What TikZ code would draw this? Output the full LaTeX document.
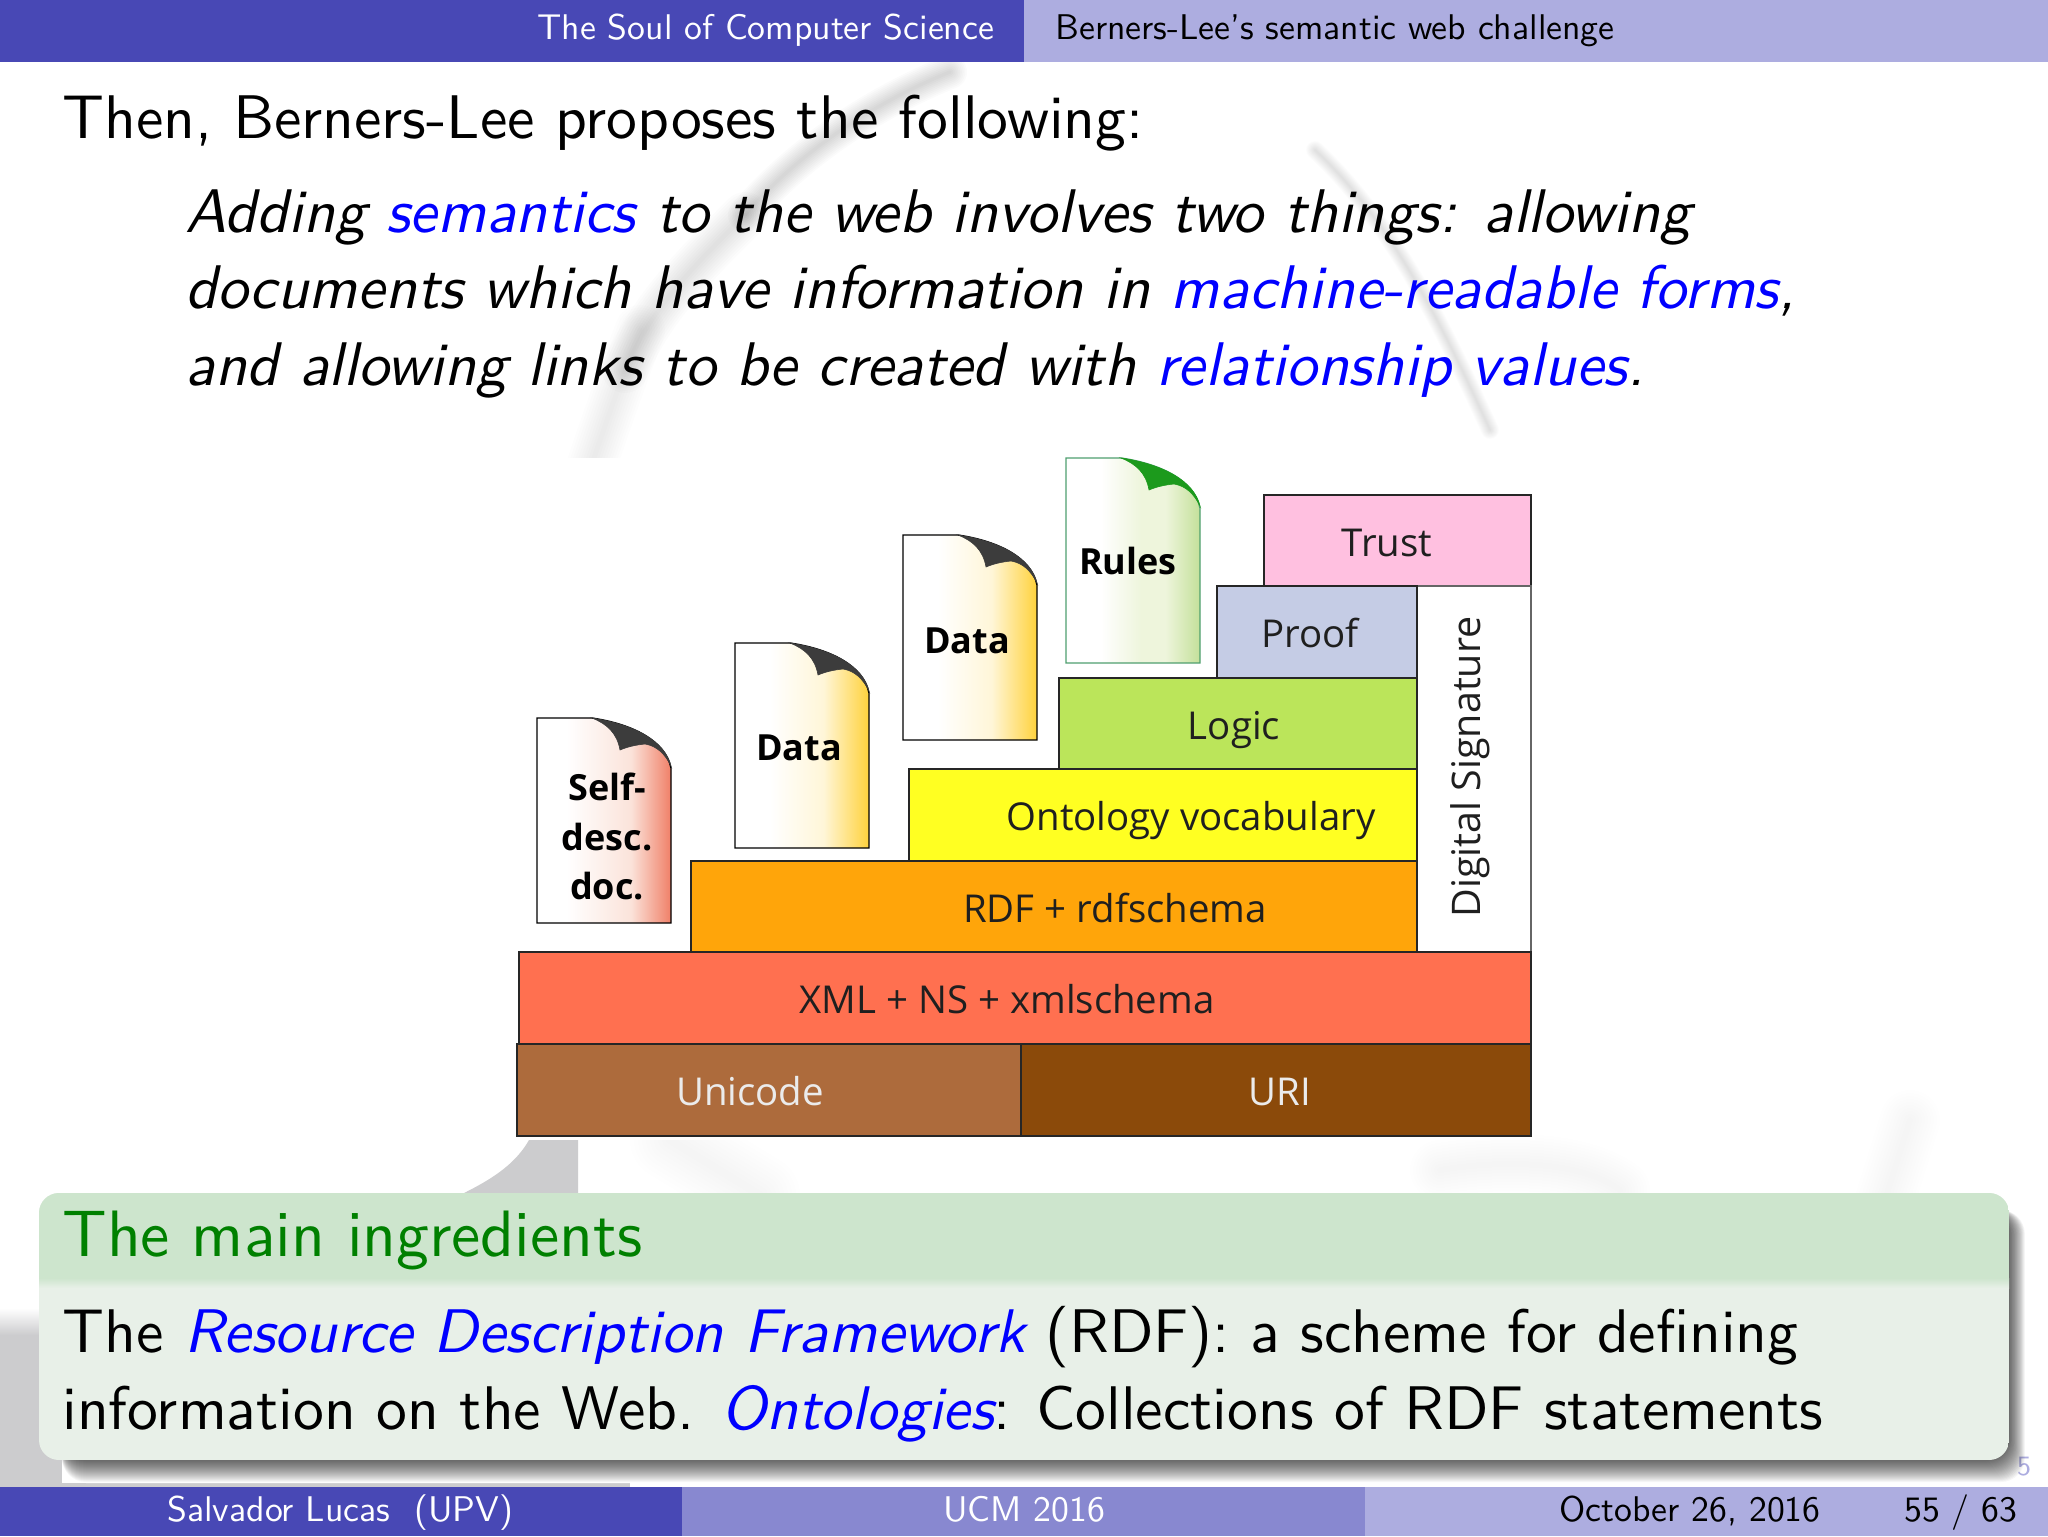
\documentclass[tikz,border=0pt]{standalone}
\usepackage{fontspec}
\setsansfont{lmsans10-regular.otf}[ItalicFont=lmsans10-oblique.otf]
\newfontfamily\figfont{Open Sans}
\renewcommand{\familydefault}{\sfdefault}
\usetikzlibrary{calc}
\definecolor{hdark}{HTML}{4848B5}
\definecolor{hmid}{HTML}{8888D0}
\definecolor{hlight}{HTML}{ADADE0}
\definecolor{blockhead}{HTML}{CDE5CD}
\definecolor{blockbody}{HTML}{E8F0E8}
\definecolor{ltitle}{HTML}{008000}
\definecolor{cTrust}{HTML}{FFC0E0}
\definecolor{cProof}{HTML}{C5CCE5}
\definecolor{cLogic}{HTML}{BBE55A}
\definecolor{cOnto}{HTML}{FFFF22}
\definecolor{cRdf}{HTML}{FFA50A}
\definecolor{cXml}{HTML}{FF7050}
\definecolor{cUni}{HTML}{AD6B3C}
\definecolor{cUri}{HTML}{8B4A0A}
\definecolor{cFoldG}{HTML}{1C9A1C}
\definecolor{cLineG}{HTML}{4F9F6F}
\definecolor{cDark}{HTML}{3C3C3C}
\definecolor{wmgray}{HTML}{CCCCCE}
\definecolor{rA}{HTML}{FBE3DA}\definecolor{rB}{HTML}{F08068}
\definecolor{yA}{HTML}{FFF6D8}\definecolor{yB}{HTML}{FFD23C}
\definecolor{gA}{HTML}{EEF5DC}\definecolor{gB}{HTML}{C4E09A}
\pgfdeclarehorizontalshading{shRed}{100bp}{color(0bp)=(white);color(36bp)=(white);color(60bp)=(rA);color(75bp)=(rB);color(100bp)=(rB)}
\pgfdeclarehorizontalshading{shYel}{100bp}{color(0bp)=(white);color(38bp)=(white);color(58bp)=(yA);color(75bp)=(yB);color(100bp)=(yB)}
\pgfdeclarehorizontalshading{shGrn}{100bp}{color(0bp)=(white);color(38bp)=(white);color(53bp)=(gA);color(62bp)=(gA);color(75bp)=(gB);color(100bp)=(gB)}
\newcommand{\docsheet}[4]{%
 \begin{scope}[shift={(#1)}]
  \path[draw=#4,line width=.7pt,shading=#2]
    (0,0) -- (55,0) .. controls (95,6) and (128,22) .. (134,50) -- (134,205) -- (0,205) -- cycle;
  \path[fill=#3,draw=#3,line width=.3pt]
    (55,0) .. controls (95,6) and (128,22) .. (134,48) .. controls (128,36) and (120,28) .. (108,26)
    .. controls (98,27) and (90,29) .. (83,32) .. controls (80,15) and (70,6) .. (55,0) -- cycle;
 \end{scope}}
\tikzset{
 x=0.5pt,y=-0.5pt,
 layer/.style={draw=black!85,line width=.7pt},
 lab/.style={font=\figfont\fontsize{19.2}{21}\selectfont,text=black!88,anchor=base,inner sep=0pt},
 dlab/.style={font=\figfont\bfseries\fontsize{18}{20}\selectfont,text=black,anchor=base,inner sep=0pt},
 line/.style={anchor=base west,inner sep=0pt,font=\fontsize{30.8}{34}\selectfont},
 iline/.style={line,font=\fontsize{30.8}{34}\selectfont\itshape},
 barlab/.style={anchor=base west,inner sep=0pt,font=\fontsize{17.85}{20}\selectfont},
}
\newcommand{\softstroke}[3]{\foreach \w in {1,...,10}{\draw[line cap=round,draw=black,opacity=#2,line width=0.05pt*\w*#1] #3;}}
\begin{document}
\begin{tikzpicture}
\useasboundingbox (0,0) rectangle (2048,1536);
\fill[white] (0,0) rectangle (2048,1536);
% watermark
\softstroke{34}{.017}{(950,72) .. controls (880,100) and (800,150) .. (745,215)}
\softstroke{46}{.012}{(745,215) .. controls (690,270) and (650,310) .. (625,370)}
\softstroke{50}{.007}{(640,330) .. controls (625,370) and (610,410) .. (590,470)}
\softstroke{18}{.010}{(1315,150) .. controls (1390,220) and (1440,320) .. (1490,430)}
\softstroke{60}{.004}{(1440,1170) .. controls (1500,1160) and (1580,1160) .. (1620,1190)}
\softstroke{60}{.003}{(1910,1120) -- (1885,1200)}
\softstroke{80}{.004}{(670,1140) -- (760,1195)}
% white picture ground
\fill[white] (515,458) rectangle (1535,1140);
% dark lower-left watermark pieces
\fill[wmgray] (529,1140) .. controls (515,1165) and (490,1180) .. (464,1193) -- (578,1193) -- (578,1140) -- cycle;
\fill[wmgray] (0,1335) rectangle (62,1487);
\shade[top color=white,bottom color=wmgray] (0,1308) rectangle (62,1335);
\fill[wmgray] (62,1483) rectangle (630,1487);
% layers
\draw[layer,fill=cTrust] (1264,495) rectangle (1531,586);
\draw[layer,draw=black!60,fill=white] (1417,586) rectangle (1531,952);
\draw[layer,fill=cProof] (1217,586) rectangle (1417,678);
\draw[layer,fill=cLogic] (1059,678) rectangle (1417,769);
\draw[layer,fill=cOnto] (909,769) rectangle (1417,861);
\draw[layer,fill=cRdf] (691,861) rectangle (1417,952);
\draw[layer,fill=cXml] (519,952) rectangle (1531,1044);
\draw[layer,fill=cUni] (517,1044) rectangle (1021,1136);
\draw[layer,fill=cUri] (1021,1044) rectangle (1531,1136);
\node[lab] (trust) at (1387,556) {Trust};
\node[lab] (proof) at (1310,647) {Proof};
\node[lab] (logic) at (1234,739) {Logic};
\node[lab] (onto) at (1191,830) {Ontology vocabulary};
\node[lab] (rdf) at (1115,922) {RDF + rdfschema};
\node[lab] (xml) at (1007,1013) {XML + NS + xmlschema};
\node[lab,text=white!92!black] (uni) at (750,1105) {Unicode};
\node[lab,text=white!92!black] (uri) at (1280,1105) {URI};
\node[lab,rotate=90,font=\figfont\fontsize{19.7}{21}\selectfont] (sig) at (1480,767) {Digital Signature};
% documents
\docsheet{537,718}{shRed}{cDark}{black}
\docsheet{735,643}{shYel}{cDark}{black}
\docsheet{903,535}{shYel}{cDark}{black}
\docsheet{1066,458}{shGrn}{cFoldG}{cLineG}
\node[dlab] (self1) at (607,800) {Self-};
\node[dlab] (self2) at (607,850) {desc.};
\node[dlab] (self3) at (607,899) {doc.};
\node[dlab] (data1) at (799,760) {Data};
\node[dlab] (data2) at (967,653) {Data};
\node[dlab] (rules) at (1128,574) {Rules};
% header
\fill[hdark] (0,0) rectangle (1024,62);
\fill[hlight] (1024,0) rectangle (2048,62);
\node[barlab,text=white] (htitle) at (537,40) {The Soul of Computer Science};
\node[barlab,text=black] (hsec) at (1055,40) {Berners-Lee's semantic web challenge};
% body
\node[line] (t0) at (62,138) {Then, Berners-Lee proposes the following:};
\node[iline] (t1) at (185,232) {Adding \textcolor{blue}{semantics} to the web involves two things: allowing};
\node[iline] (t2) at (185,308) {documents which have information in \textcolor{blue}{machine-readable forms},};
\node[iline] (t3) at (185,385) {and allowing links to be created with \textcolor{blue}{relationship values}.};
% block shadow
\fill[white,rounded corners=12pt] (62,1300) rectangle (2027,1483);
\node[inner sep=0pt,text=hlight,font=\fontsize{14}{16}\selectfont] (dig) at (2024,1467) {5};
\foreach \i in {1,...,22}{
 \fill[black,opacity=.036,rounded corners=12pt] (62,1210) rectangle ({2009+0.72*\i},{1460+\i});
}
% block
\begin{scope}
\clip[rounded corners=10pt] (39,1193) rectangle (2009,1460);
\fill[blockbody] (39,1193) rectangle (2009,1460);
\fill[blockhead] (39,1193) rectangle (2009,1280);
\shade[top color=blockhead,bottom color=blockbody] (39,1278) rectangle (2009,1288);
\end{scope}
\node[line,text=ltitle,font=\fontsize{32.8}{36}\selectfont] (btitle) at (62,1256) {The main ingredients};
\node[line] (b1) at (62,1352) {The \textcolor{blue}{\itshape Resource Description Framework} (RDF): a scheme for defining};
\node[line] (b2) at (62,1429) {information on the Web.\hspace{13.5pt}\textcolor{blue}{\itshape Ontologies}:\hspace{12.8pt}Collections of RDF statements};
% footer
\fill[hdark] (0,1487) rectangle (682,1536);
\fill[hmid] (682,1487) rectangle (1365,1536);
\fill[hlight] (1365,1487) rectangle (2048,1536);
\node[barlab,text=white] (fa) at (167,1521) {Salvador Lucas\ \ (UPV)};
\node[barlab,anchor=base,text=white] (fb) at (1024,1521) {UCM 2016};
\node[barlab,text=black] (fc) at (1559,1521) {October 26, 2016};
\node[barlab,text=black] (fd) at (1904,1521) {55 / 63};
\end{tikzpicture}
\end{document}
